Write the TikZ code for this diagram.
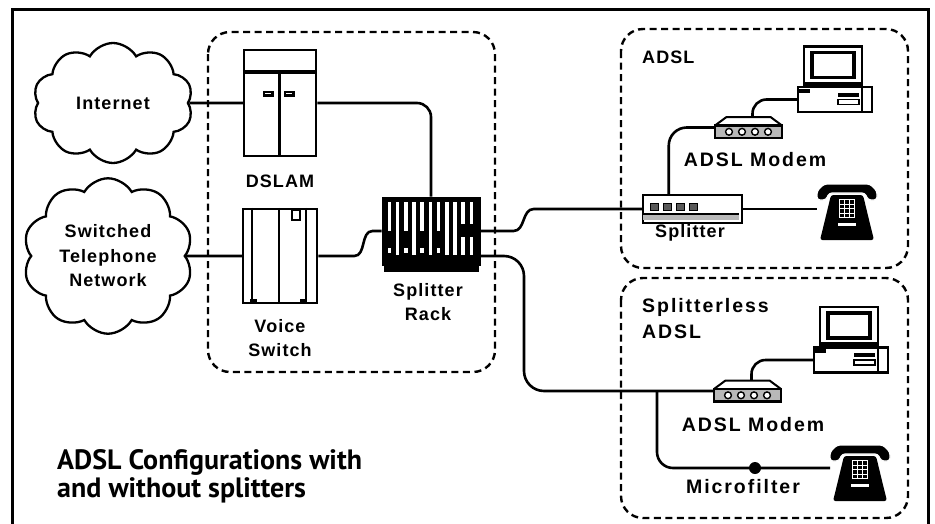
\documentclass[tikz,border=0pt]{standalone}
\usepackage{fontspec}
\setmainfont{Liberation Sans}
\newfontfamily\lblfont[LetterSpace=6]{Liberation Sans}
\newfontfamily\widelblfont[LetterSpace=10]{Liberation Sans}
\newfontfamily\captionfont{PT Sans}
\usetikzlibrary{shapes.symbols,calc}

\definecolor{panelgray}{gray}{0.72}
\definecolor{keygray}{gray}{0.35}

\tikzset{
  lbl/.style={font=\lblfont\bfseries\fontsize{18}{24.5}\selectfont, align=center, inner sep=0pt},
  widelbl/.style={font=\widelblfont\bfseries\fontsize{19.5}{26}\selectfont, align=center, inner sep=0pt},
  wire/.style={line width=2.6pt},
  frame/.style={line width=3pt},
  group/.style={line width=2.4pt, dash pattern=on 7pt off 4.5pt, rounded corners=22pt},
  netcloud/.style={cloud, cloud puffs=10, cloud puff arc=120, draw, line width=2.3pt, fill=white, inner sep=0pt},
  devbox/.style={draw, line width=2.5pt, fill=white, inner sep=0pt},
  ghost/.style={inner sep=0pt, outer sep=0pt, draw=none},
  modemicon/.pic={
    \node[ghost, minimum width=67pt, minimum height=21pt] (-box) at (0,0) {};
    \filldraw[fill=white, line width=2pt, line join=round] (-33.5,-2) -- (-22,-10.5) -- (22,-10.5) -- (33.5,-2) -- cycle;
    \filldraw[fill=panelgray, line width=2.4pt] (-33.5,-2) rectangle (33.5,10.5);
    \foreach \cx in {-19.5,-6.5,6.5,19.5}
      \filldraw[fill=white, line width=1.4pt] (\cx,4.3) circle (3.4pt);
  },
  phoneicon/.pic={
    \node[ghost, minimum width=60pt, minimum height=56pt] (-box) at (0,0) {};
    % body
    \fill[rounded corners=2.5pt] (-16,-17) -- (16,-17) -- (24,16) -- (27,28) -- (-27,28) -- (-24,16) -- cycle;
    % handset
    \filldraw[draw=white, line width=1.2pt, rounded corners=3pt] (-30,-12) -- (-30,-21) -- (-23,-28) -- (23,-28) -- (30,-21) -- (30,-12) -- (21,-12) -- (18,-19) -- (-18,-19) -- (-21,-12) -- cycle;
    % keypad
    \fill[white] (-8,-13) rectangle (8,6);
    \foreach \kx in {-5,0,5}
      \foreach \ky in {-10,-5.5,-1,3.5}
        \fill ({\kx-1.8},{\ky-1.6}) rectangle ({\kx+1.8},{\ky+1.6});
    \fill[white] (-9,11) rectangle (9,14);
  },
  pcicon/.pic={
    \node[devbox, minimum width=74pt, minimum height=25pt] (-base) at (0,0) {};
    % monitor
    \filldraw[fill=white, line width=2.5pt] (-31,-53) rectangle (27,-12.5);
    \filldraw[fill=white, line width=3.5pt] (-23,-47) rectangle (19,-22);
    \fill (-31,-18) rectangle (27,-12.5);
    % drive bays
    \fill (-36,-11) rectangle (-25,-7);
    \fill (3,-7) rectangle (24,-3);
    \draw[line width=1.4pt] (3,0) rectangle (24,5);
    \draw[line width=2pt] (27,-12.5) -- (27,12.5);
  },
}

\begin{document}
\begin{tikzpicture}[x=1pt,y=-1pt]
\useasboundingbox (0,0) rectangle (935,523);
\fill[white] (0,0) rectangle (935,523);
\draw[frame] (12,9) rectangle (928,526);

% groups
\draw[group] (208,32) rectangle (495,372);
\draw[group] (621,29) rectangle (908,268);
\draw[group] (621,278) rectangle (908,518);

% networks
\node[netcloud, lbl, minimum width=160pt, minimum height=120pt] (inet) at (113,103) {Internet};
\node[netcloud, lbl, minimum width=170pt, minimum height=125pt] (pstn) at (108,256) {Switched\\Telephone\\Network};

% DSLAM
\node[devbox, minimum width=72pt, minimum height=106pt] (dslam) at (280,103) {};
\begin{scope}[shift={(dslam.north west)}]
  \draw[line width=3.5pt] (0,23) -- (72,23);
  \draw[line width=2.5pt] (36.5,23) -- (36.5,106);
  \fill (20,42) rectangle (31,48);
  \fill (41,42) rectangle (52,48);
  \draw[white, line width=0.9pt] (22.5,45) -- (28.5,45) (43.5,45) -- (49.5,45);
\end{scope}

% voice switch
\node[devbox, minimum width=74pt, minimum height=94pt] (vsw) at (280,256) {};
\begin{scope}[shift={(vsw.north west)}]
  \draw[line width=2.5pt] (10,0) -- (10,94) (37,0) -- (37,94) (64,0) -- (64,94);
  \draw[line width=2pt] (50,2) rectangle (58,12);
  \fill (8,91) rectangle (15,96);
  \fill (58,91) rectangle (65,96);
\end{scope}

% splitter rack
\node[draw, fill=black, line width=1pt, minimum width=98pt, minimum height=68pt, inner sep=0pt] (rack) at (431,231) {};
\fill ($(rack.south west)+(2,-3)$) rectangle ($(rack.south east)+(-2,6)$);
\begin{scope}[shift={(rack.north west)}]
  \foreach \i in {1,3,5,7,8}
    \fill[white] ({6+8.2*\i},5) rectangle ({9.6+8.2*\i},58);
  \foreach \i in {0,2,4,6} {
    \fill[white] ({6+8.2*\i},5) rectangle ({9.6+8.2*\i},34);
    \fill[white] ({6+8.2*\i},51) rectangle ({9.6+8.2*\i},56);
  }
  \foreach \i in {9,10} {
    \fill[white] ({6+8.2*\i},5) rectangle ({9.6+8.2*\i},27);
    \fill[white] ({6+8.2*\i},40) rectangle ({9.6+8.2*\i},58);
  }
\end{scope}

% splitter
\node[devbox, minimum width=99pt, minimum height=28pt] (spl) at (692.5,209) {};
\begin{scope}[shift={(spl.north west)}]
  \fill[panelgray] (1.5,20.5) rectangle (97.5,26);
  \draw[line width=1.6pt] (1.5,20) -- (97.5,20);
  \foreach \kx in {9,22,35,48}
    \filldraw[fill=keygray, line width=1pt] (\kx,10) rectangle ({\kx+8},16.5);
\end{scope}

% customer equipment
\pic (tmodem) at (748.5,127.5) {modemicon};
\pic (bmodem) at (747.5,391) {modemicon};
\pic (tpc) at (835,99.5) {pcicon};
\pic (bpc) at (851,360) {pcicon};
\pic (tphone) at (847,212) {phoneicon};
\pic (bphone) at (860,473) {phoneicon};

% central office wiring
\draw[wire] (inet.east) -- (dslam.west);
\draw[wire] (pstn.east) -- (vsw.west);
\draw[wire, rounded corners=14pt] (dslam.east) -| (rack.north);
\coordinate (v1) at ($(vsw.east)+(36,0)$);
\coordinate (v2) at ($(rack.west)+(-9,0)$);
\draw[wire] (vsw.east) -- (v1) .. controls ($(v1)+(12,0)$) and ($(v2)+(-12,0)$) .. (v2) -- (rack.west);

% line to the splitter
\coordinate (u1) at ($(rack.east)+(33,0)$);
\coordinate (u2) at ($(spl.west)+(-108,0)$);
\draw[wire] (rack.east) -- (u1) .. controls ($(u1)+(12,0)$) and ($(u2)+(-12,0)$) .. (u2) -- (spl.west);

% ADSL premises
\draw[wire, rounded corners=18pt] ($(spl.north west)+(27,0)$) |- (tmodem-box.west);
\draw[wire, rounded corners=14pt] ($(tmodem-box.north)+(4,0)$) |- (tpc-base.west);
\draw[wire] (spl.east) -- (spl.east -| tphone-box.west);

% splitterless premises
\coordinate (l0) at ($(rack.east)+(0,25)$);
\draw[wire, rounded corners=20pt] (l0) -| ($(bmodem-box.west)+(-190,0)$) -- (bmodem-box.west);
\coordinate (jn) at ($(bmodem-box.west)+(-57,0)$);
\coordinate (mf) at (755,468);
\draw[wire, rounded corners=16pt] (jn) |- (mf) -- (mf -| bphone-box.west);
\fill (mf) circle (6pt);
\draw[wire, rounded corners=14pt] ($(bmodem-box.north)+(4,0)$) |- (bpc-base.west);

% labels
\node[lbl] (dslamlbl) at (280,181) {DSLAM};
\node[lbl] (vswlbl) at (280,338) {Voice\\Switch};
\node[lbl] (racklbl) at (428,302) {Splitter\\Rack};
\node[lbl, anchor=west] (adsllbl) at (642,57) {ADSL};
\node[widelbl, anchor=west, align=left] (sladsllbl) at (642,318.5) {Splitterless\\ADSL};
\node[widelbl] (tmodemlbl) at (755,160) {ADSL Modem};
\node[lbl] (spllbl) at (690,233) {Splitter};
\node[widelbl] (bmodemlbl) at (753,425) {ADSL Modem};
\node[widelbl] (mflbl) at (743,487) {Microfilter};

\node[anchor=west, align=left, inner sep=0pt, font=\captionfont\bfseries\fontsize{28}{28}\selectfont] (caption) at (57,476) {ADSL Configurations with\\and without splitters};
\end{tikzpicture}
\end{document}
